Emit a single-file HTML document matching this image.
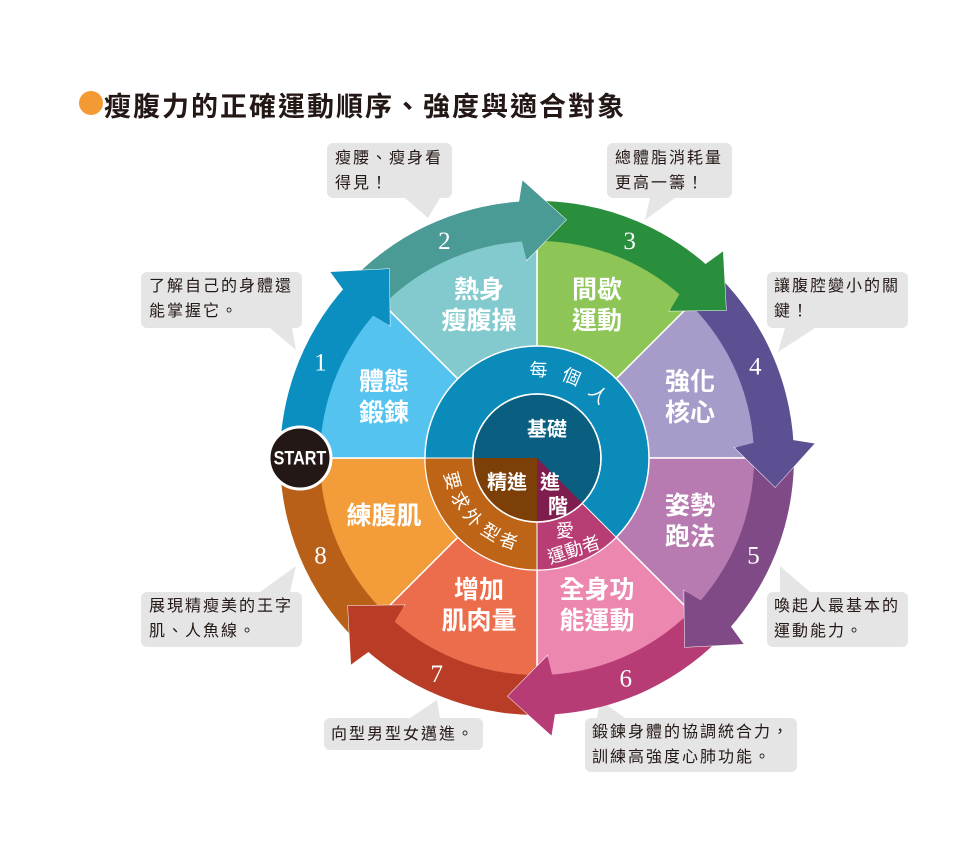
<!DOCTYPE html>
<html><head><meta charset="utf-8">
<style>
body{margin:0;background:#fff;width:980px;height:849px;overflow:hidden;position:relative;font-family:"Liberation Sans","Noto Sans CJK TC",sans-serif;}
svg{position:absolute;left:0;top:0}
.t{position:absolute;font-size:16px;line-height:25px;color:#231815;letter-spacing:2px;white-space:nowrap}
</style></head><body>
<svg id="s" width="980" height="849" viewBox="0 0 980 849"></svg>
<div style="position:absolute;left:79px;top:91px;width:24px;height:24px;border-radius:50%;background:#f39a35"></div>
<div style="position:absolute;left:104px;top:85px;font-size:27px;font-weight:bold;color:#231815;letter-spacing:2px;white-space:nowrap">瘦腹力的正確運動順序、強度與適合對象</div>
<div class="t" style="left:335px;top:146px">瘦腰、瘦身看<br>得見！</div>
<div class="t" style="left:615px;top:146px">總體脂消耗量<br>更高一籌！</div>
<div class="t" style="left:149px;top:274px">了解自己的身體還<br>能掌握它。</div>
<div class="t" style="left:774px;top:274px">讓腹腔變小的關<br>鍵！</div>
<div class="t" style="left:149px;top:594px">展現精瘦美的王字<br>肌、人魚線。</div>
<div class="t" style="left:774px;top:594px">喚起人最基本的<br>運動能力。</div>
<div class="t" style="left:331px;top:722px">向型男型女邁進。</div>
<div class="t" style="left:592px;top:720px">鍛鍊身體的協調統合力，<br>訓練高強度心肺功能。</div>
<script>
var cx=537,cy=458,s='';
function P(r,a){a=a*Math.PI/180;return [(cx+r*Math.sin(a)).toFixed(1),(cy-r*Math.cos(a)).toFixed(1)];}
function pt(r,a){return P(r,a).join(',');}
var cb=[[327,143,125,55,[405,198],[428,218],[440,198]],[607,143,125,55,[650,198],[645,220],[675,198]],
[141,272,161,56,[270,328],[296,350],[292,328]],[767,272,141,56,[785,328],[778,352],[815,328]],
[141,592,161,55,[260,592],[296,566],[290,592]],[767,592,141,55,[780,592],[780,566],[810,592]],
[324,718,159,32,[410,718],[437,700],[440,718]],[585,718,212,54,[597,718],[600,700],[625,718]]];
cb.forEach(function(b){s+='<rect x="'+b[0]+'" y="'+b[1]+'" width="'+b[2]+'" height="'+b[3]+'" rx="6" fill="#e5e5e5"/>';
s+='<polygon points="'+b[4]+' '+b[5]+' '+b[6]+'" fill="#e5e5e5"/>';});
var sc=['#8dc556','#a79bca','#b87bb1','#ec87b0','#ec6d4b','#f39c3a','#55c3ef','#82cace'];
for(var i=0;i<8;i++){var a0=i*45,a1=a0+45;
s+='<path d="M'+cx+','+cy+' L'+pt(218,a0)+' A218,218 0 0,1 '+pt(218,a1)+' Z" fill="'+sc[i]+'" stroke="#fff" stroke-width="1.5"/>';}
var ac=['#0b8fc1','#4a9a96','#2a8f3c','#5c5093','#7f4a86','#b73c75','#b93c26','#b86018'];
var ro=257,ri=217;
for(var k=0;k<8;k++){var a0=267+45*k,a1=a0+45;
s+='<path d="M'+pt(ro,a0)+' A'+ro+','+ro+' 0 0,1 '+pt(ro,a1)+' L'+pt(ri,a1)+' A'+ri+','+ri+' 0 0,0 '+pt(ri,a0)+' Z" fill="'+ac[k]+'"/>';}
for(var k=0;k<7;k++){var a1=267+45*k+45;
s+='<polygon points="'+pt(278,a1)+' '+pt(240,a1+10)+' '+pt(198,a1)+' '+pt(ri+1,a1)+'" fill="'+ac[k]+'" stroke="#fff" stroke-width="1"/>';
s+='<path d="M'+pt(ro,a1-1)+' L'+pt(278,a1)+' L'+pt(240,a1+10)+' L'+pt(198,a1)+' L'+pt(ri,a1-1)+' Z" fill="'+ac[k]+'"/>';}
var na=[294,337,23,67,114,158,205,246];
for(var k=0;k<8;k++){var p=P(237,na[k]);s+='<text x="'+p[0]+'" y="'+(+p[1]+9)+'" font-family="Liberation Serif,serif" font-size="25" fill="#fff" text-anchor="middle">'+(k+1)+'</text>';}
s+='<circle cx="'+cx+'" cy="'+cy+'" r="112" fill="#0a8bba" stroke="#fff" stroke-width="1.5"/>';
s+='<path d="M'+cx+','+cy+' L'+pt(112,180)+' A112,112 0 0,1 '+pt(112,270)+' Z" fill="#bd6416" stroke="#fff" stroke-width="1"/>';
s+='<path d="M'+cx+','+cy+' L'+pt(112,135)+' A112,112 0 0,1 '+pt(112,180)+' Z" fill="#b93d75" stroke="#fff" stroke-width="1"/>';
s+='<circle cx="'+cx+'" cy="'+cy+'" r="64" fill="#0a5f80" stroke="#fff" stroke-width="1.5"/>';
s+='<path d="M'+cx+','+cy+' L'+pt(64,180)+' A64,64 0 0,1 '+pt(64,270)+' Z" fill="#7c3f08"/>';
s+='<path d="M'+cx+','+cy+' L'+pt(64,135)+' A64,64 0 0,1 '+pt(64,180)+' Z" fill="#7f1e4e"/>';
s+='<circle cx="'+cx+'" cy="'+cy+'" r="64" fill="none" stroke="#fff" stroke-width="1.5"/>';
function rc(ch,r,a,rot,fs){var p=P(r,a);return '<text x="'+p[0]+'" y="'+p[1]+'" font-size="'+fs+'" fill="#fff" text-anchor="middle" dominant-baseline="central" transform="rotate('+rot+' '+p[0]+' '+p[1]+')">'+ch+'</text>';}
[['每',1],['個',23],['人',44]].forEach(function(c){s+=rc(c[0],88,c[1],c[1],18);});
[['要',255],['求',241],['外',227],['型',212],['者',199]].forEach(function(c){s+=rc(c[0],88,c[1],c[1]-180,18);});
function tx(t,x,y,fs,w){return '<text x="'+x+'" y="'+y+'" font-size="'+fs+'" fill="#fff" font-weight="'+(w||'normal')+'" text-anchor="middle" dominant-baseline="central">'+t+'</text>';}
s+=tx('基礎',547,430,20,'bold');s+=tx('精進',507,483,20,'bold');s+=tx('進',550,483,20,'bold');s+=tx('階',558,507,20,'bold');
s+=tx('愛',565,531,18);s+='<text x="574" y="550" font-size="18" fill="#fff" text-anchor="middle" dominant-baseline="central" transform="rotate(-18 574 550)">運動者</text>';
var L=[['體態','鍛鍊',384,397],['熱身','瘦腹操',479,305],['間歇','運動',597,305],['強化','核心',690,397],['姿勢','跑法',690,521],['全身功','能運動',597,605],['增加','肌肉量',479,605],['練腹肌','',384,516]];
L.forEach(function(l){if(l[1]){s+=tx(l[0],l[2],l[3]-15,25,'bold');s+=tx(l[1],l[2],l[3]+16,25,'bold');}else s+=tx(l[0],l[2],l[3],25,'bold');});
s+='<circle cx="300" cy="458" r="31" fill="#231815" stroke="#fff" stroke-width="3"/>';
s+='<text x="300" y="458" font-size="19" font-weight="bold" fill="#fff" text-anchor="middle" dominant-baseline="central" transform="scale(0.85,1) translate(52.9,0)">START</text>';
document.getElementById('s').innerHTML=s;
</script>
</body></html>
